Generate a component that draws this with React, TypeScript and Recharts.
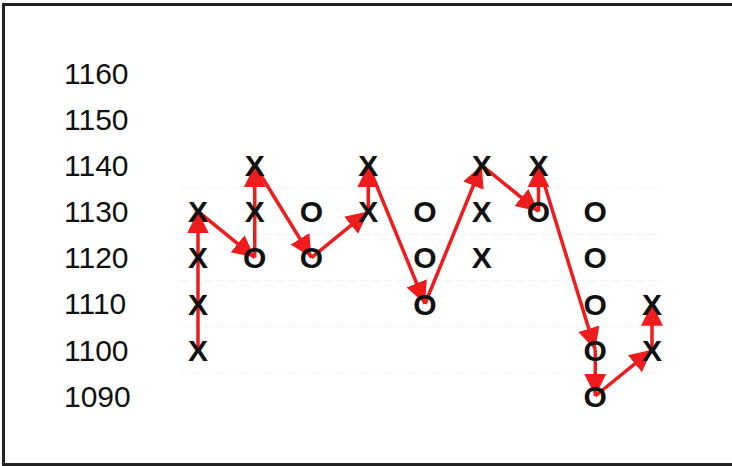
import React from "react";
import { ComposedChart, XAxis, YAxis, Scatter, Line, ReferenceLine } from "recharts";

const priceTicks = [1090, 1100, 1110, 1120, 1130, 1140, 1150, 1160];
const xCols = [1, 1, 1, 1, 2, 2, 4, 4, 6, 6, 6, 7, 9, 9];
const xPrices = [1100, 1110, 1120, 1130, 1130, 1140, 1130, 1140, 1120, 1130, 1140, 1140, 1100, 1110];
const oCols = [2, 3, 3, 5, 5, 5, 7, 8, 8, 8, 8, 8];
const oPrices = [1120, 1120, 1130, 1110, 1120, 1130, 1130, 1090, 1100, 1110, 1120, 1130];
const pathCols = [1, 1, 2, 2, 3, 4, 4, 5, 6, 7, 7, 8, 8, 9, 9];
const pathPrices = [1100, 1130, 1120, 1140, 1120, 1130, 1140, 1110, 1140, 1130, 1140, 1100, 1090, 1100, 1110];
const gridPrices = [1095, 1105, 1115, 1125, 1135];

const xData = xCols.map((c, i) => ({ col: c, price: xPrices[i] }));
const oData = oCols.map((c, i) => ({ col: c, price: oPrices[i] }));
const segments = pathCols.slice(1).map((c, i) => [
  { col: pathCols[i], price: pathPrices[i] },
  { col: c, price: pathPrices[i + 1] },
]);

const FONT = "'Liberation Sans', Arial, sans-serif";
const RED = "#ee1c1c";

const glyph = (ch: string) => (p: any) => (
  <text
    x={p.cx}
    y={p.cy}
    dy="0.36em"
    textAnchor="middle"
    fontFamily={FONT}
    fontWeight="bold"
    fontSize={30}
    fill="#111"
  >
    {ch}
  </text>
);

const Tick = (p: any) => (
  <text x={64} y={p.y} dy="0.355em" textAnchor="start" fontFamily={FONT} fontSize={30} fill="#111">
    {p.payload.value}
  </text>
);

export default function App() {
  return (
    <div
      style={{
        position: "absolute",
        left: 0,
        top: 0,
        width: 732,
        height: 466,
        background: "#fff",
        overflow: "hidden",
      }}
    >
      <div
        style={{
          position: "absolute",
          left: 2,
          top: 3,
          width: 740,
          height: 457,
          borderTop: "3px solid #222",
          borderLeft: "3px solid #222",
          borderBottom: "3px solid #222",
        }}
      />
      <div style={{ position: "absolute", left: 0, top: 0 }}>
        <ComposedChart width={732} height={466} margin={{ top: 73, right: 80, bottom: 70, left: 0 }}>
          <defs>
            <marker
              id="arrowHead"
              markerUnits="userSpaceOnUse"
              viewBox="0 0 24 24"
              markerWidth={24}
              markerHeight={24}
              refX={22}
              refY={11}
              orient="auto"
            >
              <path d="M0,0 L22,11 L0,22 z" fill={RED} />
            </marker>
          </defs>
          <XAxis type="number" dataKey="col" domain={[1, 9]} hide allowDuplicatedCategory={false} />
          <YAxis
            type="number"
            dataKey="price"
            domain={[1090, 1160]}
            ticks={priceTicks}
            width={198}
            axisLine={false}
            tickLine={false}
            tick={<Tick />}
          />
          {gridPrices.map((g) => (
            <ReferenceLine
              key={g}
              segment={[
                { x: 0.7, y: g },
                { x: 9.2, y: g },
              ]}
              stroke="#f2f2f2"
              strokeDasharray="8 4"
              ifOverflow="visible"
            />
          ))}
          <Scatter data={xData} dataKey="price" shape={glyph("X")} isAnimationActive={false} />
          <Scatter data={oData} dataKey="price" shape={glyph("O")} isAnimationActive={false} />
          {segments.map((s, i) => (
            <Line
              key={i}
              data={s}
              dataKey="price"
              type="linear"
              stroke={RED}
              strokeWidth={3.5}
              dot={false}
              activeDot={false}
              markerEnd="url(#arrowHead)"
              isAnimationActive={false}
            />
          ))}
        </ComposedChart>
      </div>
    </div>
  );
}
